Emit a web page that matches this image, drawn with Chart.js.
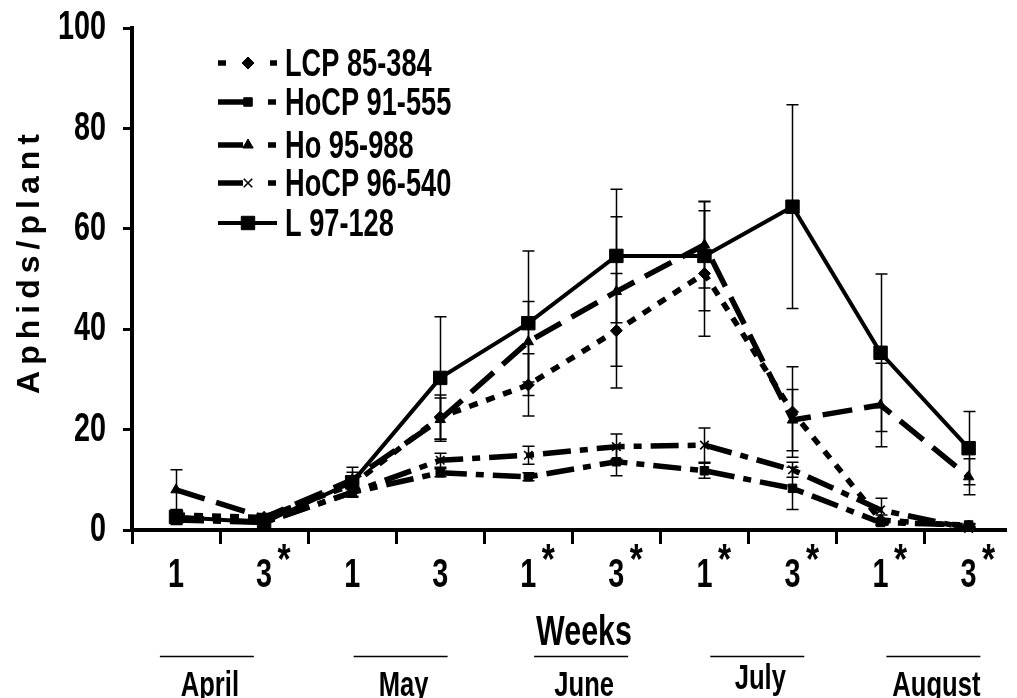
<!DOCTYPE html>
<html><head><meta charset="utf-8">
<script src="https://cdn.jsdelivr.net/npm/chart.js@4/dist/chart.umd.min.js"></script>
<style>html,body{margin:0;padding:0;background:#fff;overflow:hidden}canvas{display:block}</style>
</head><body><canvas id="c" width="1017" height="698"></canvas>
<script>
// ---- data ----
const weekLabels = ['1','3','1','3','1','3','1','3','1','3'];
const weekStar   = [false,true,false,false,true,true,true,true,true,true];
const months     = ['April','May','June','July','August'];
const yTicks     = [0,20,40,60,80,100];

const lcp8538     = [3, 2.5, 9, 22.5, 28.9, 39.7, 51.1, 23.5, 2, 0.8];
const lcp8538Err  = [0.8, 0.5, 1, 4.4, 6.2, 11.4, 12.5, 9, 1, 0.3];
const hocp91555   = [2, 1.5, 7.5, 11.4, 10.6, 13.6, 11.8, 8.3, 1.5, 1];
const hocp91555Err= [0.5, 0.3, 1, 0.8, 0.8, 2.8, 1.5, 4.2, 0.5, 0.3];
const ho95988     = [8, 2.5, 10, 22, 37.5, 47.5, 56.8, 21.9, 24.9, 10.6];
const ho95988Err  = [4, 0.8, 2.5, 4.3, 8, 14.9, 8.6, 6.1, 8.3, 3.6];
const hocp96540   = [2.5, 1.5, 7.5, 13.9, 14.9, 16.6, 16.9, 12, 4, 0.3];
const hocp96540Err= [0.8, 0.3, 0.8, 1.4, 1.8, 2.5, 3.4, 1.5, 2.3, 0.3];
const l97128      = [2.6, 1.5, 9.5, 30.3, 41.2, 54.6, 54.6, 64.4, 35.3, 16.3];
const l97128Err   = [1.5, 0.5, 2, 12.2, 14.4, 13.3, 10.9, 20.3, 15.7, 7.3];

// ---- layout / style ----
const FONT = '"Liberation Sans", Arial, sans-serif';
const SX = 0.8, SY = 1.12;
const monthCenters = [1.35, 3.55, 5.6, 7.6, 9.6]; // in week-axis units

function series(label, vals, err, style){
  return Object.assign({label, data: vals.map((v,i)=>({x:i+1, y:v})), err,
    borderColor:'#000', backgroundColor:'#000', pointBorderColor:'#000', pointBackgroundColor:'#000',
    fill:false, tension:0, clip:false}, style);
}

const datasets = [
  series('LCP 85-384', lcp8538, lcp8538Err, {borderWidth:5.5, borderDash:[9,9], pointStyle:'rectRot', pointRadius:6, pointBorderWidth:1,
    legendSeg:[[218,226],[270,277]]}),
  series('HoCP 91-555', hocp91555, hocp91555Err, {borderWidth:5.5, borderDash:[28,9,8,9], pointStyle:'rect', pointRadius:6, pointBorderWidth:1,
    legendSeg:[[218,245],[268,276]]}),
  series('Ho 95-988', ho95988, ho95988Err, {borderWidth:5.5, borderDash:[30,12], pointStyle:'triangle', pointRadius:6, pointBorderWidth:1,
    legendSeg:[[218,243],[268,276]]}),
  series('HoCP 96-540', hocp96540, hocp96540Err, {borderWidth:5.5, borderDash:[28,9,8,9], pointStyle:'crossRot', pointRadius:6, pointBorderWidth:1.6,
    legendSeg:[[218,243],[268,276]]}),
  series('L 97-128', l97128, l97128Err, {borderWidth:4, borderDash:[], pointStyle:'rect', pointRadius:9.5, pointBorderWidth:1,
    legendSeg:[[218,277]]})
];

function txt(ctx, s, x, y, size, sx, align, sy){
  ctx.save(); ctx.translate(x,y); ctx.scale(sx, sy||SY);
  ctx.font = 'bold '+size+'px '+FONT; ctx.fillStyle='#000';
  ctx.textAlign = align; ctx.textBaseline='middle';
  ctx.fillText(s,0,0); ctx.restore();
}

function marker(ctx, ds, x, y){
  if (Chart.helpers && Chart.helpers.drawPoint){
    ctx.save(); ctx.fillStyle='#000'; ctx.strokeStyle='#000'; ctx.lineWidth = ds.pointBorderWidth;
    Chart.helpers.drawPoint(ctx, {pointStyle: ds.pointStyle, radius: ds.pointRadius, rotation:0, borderWidth: ds.pointBorderWidth}, x, y);
    ctx.restore();
  }
}

const errorBars = { id:'errorBars', afterDatasetsDraw(chart){
  const {ctx, scales:{x,y}} = chart; ctx.save(); ctx.strokeStyle='#000'; ctx.lineWidth=1.5;
  chart.data.datasets.forEach(ds=>{ ds.data.forEach((p,i)=>{ const e=ds.err[i]; if(!e) return;
    const px=Math.round(x.getPixelForValue(p.x))+0.5;
    const y1=y.getPixelForValue(p.y+e), y2=y.getPixelForValue(Math.max(0,p.y-e));
    ctx.beginPath(); ctx.moveTo(px,y1); ctx.lineTo(px,y2);
    ctx.moveTo(px-6,y1); ctx.lineTo(px+6,y1); ctx.moveTo(px-6,y2); ctx.lineTo(px+6,y2); ctx.stroke(); }); });
  ctx.restore(); } };

const texts = { id:'texts', afterDraw(chart){
  const {ctx, scales:{x,y}} = chart;
  // y tick labels
  yTicks.forEach(v=> txt(ctx, String(v), 106, y.getPixelForValue(v), 36, SX, 'right'));
  // x labels
  weekLabels.forEach((l,i)=>{ const px = x.getPixelForValue(i+1);
    txt(ctx, l, px, 576, 36, SX, 'center');
    if (weekStar[i]) txt(ctx, '*', px+20, 561, 42, SX, 'center', 1); });
  txt(ctx, 'Weeks', 584, 633, 38, SX, 'center');
  months.forEach((m,i)=>{ const px = x.getPixelForValue(monthCenters[i]);
    ctx.save(); ctx.strokeStyle='#000'; ctx.lineWidth=1.5; ctx.beginPath(); ctx.moveTo(px-47,656.5); ctx.lineTo(px+47,656.5); ctx.stroke(); ctx.restore();
    txt(ctx, m, px+3, i===3?679:686, 32, SX, 'center'); });
  // legend
  const rows=[63,102,145,183,223];
  datasets.forEach((ds,i)=>{ const yy=rows[i];
    ctx.save(); ctx.strokeStyle='#000'; ctx.lineWidth=ds.borderWidth; ctx.lineCap='butt';
    ds.legendSeg.forEach(s=>{ ctx.beginPath(); ctx.moveTo(s[0],yy); ctx.lineTo(s[1],yy); ctx.stroke(); });
    ctx.restore();
    marker(ctx, ds, 248, yy);
    txt(ctx, ds.label, 285, yy+2, 34, SX, 'left'); });
  // y title
  ctx.save(); ctx.translate(30, 264); ctx.rotate(-Math.PI/2);
  ctx.font='bold 32px '+FONT; ctx.fillStyle='#000'; ctx.textAlign='center'; ctx.textBaseline='middle';
  try { ctx.letterSpacing='6px'; } catch(e){}
  ctx.fillText('Aphids/plant', 3, 0); ctx.restore();
} };

new Chart(document.getElementById('c'), {
  type:'line',
  data:{ datasets },
  options:{
    responsive:false, animation:false, devicePixelRatio:1,
    layout:{padding:{left:0,right:0,top:28,bottom:0}},
    plugins:{legend:{display:false}, tooltip:{enabled:false}},
    scales:{
      x:{type:'linear', min:0.5, max:10.43,
        afterBuildTicks(s){ s.ticks = weekLabels.map((_,i)=>({value:i+0.5})); },
        afterFit(s){ s.height = 168; },
        ticks:{display:false},
        grid:{display:true, drawOnChartArea:false, drawTicks:true, tickLength:14, tickWidth:3, color:'#000'},
        border:{display:true, width:4, color:'#000'}},
      y:{min:0, max:100,
        afterBuildTicks(s){ s.ticks = yTicks.map(v=>({value:v})); },
        afterFit(s){ s.width = 132; },
        ticks:{display:false},
        grid:{display:true, drawOnChartArea:false, drawTicks:true, tickLength:9, tickWidth:3, color:'#000'},
        border:{display:true, width:4, color:'#000'}}
    }
  },
  plugins:[errorBars, texts]
});
</script>
</body></html>
